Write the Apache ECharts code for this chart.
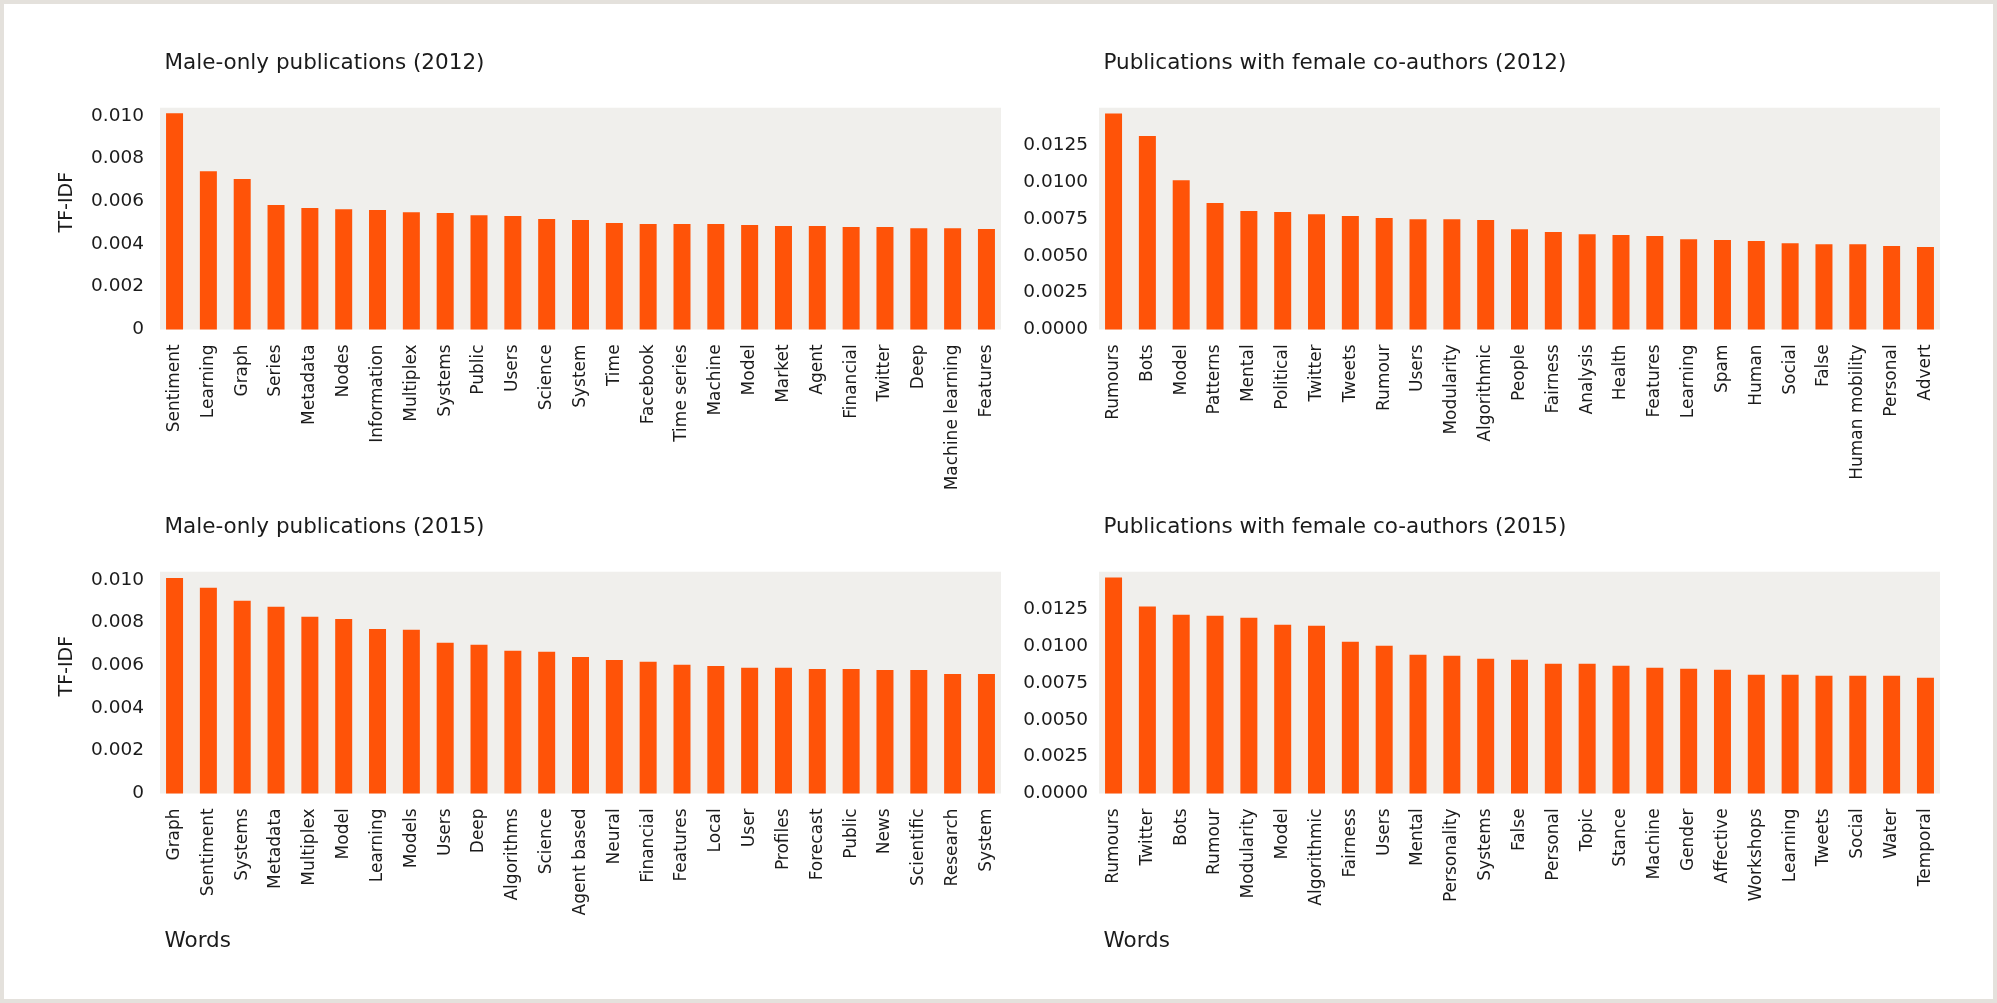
<!DOCTYPE html>
<html>
<head>
<meta charset="utf-8">
<title>TF-IDF of words in publications</title>
<script src="https://cdn.jsdelivr.net/npm/echarts@6/dist/echarts.min.js"></script>
<style>
  html, body { margin: 0; padding: 0; background: #ffffff; }
  #chart {
    width: 1997px; height: 1003px; background: #ffffff;
    box-shadow: inset 0 0 0 4px #e4e1dc;
  }
</style>
</head>
<body>
<div id="chart"></div>
<script>
// ---- data: top words by TF-IDF score ----
const wordsMale2012 = ['Sentiment', 'Learning', 'Graph', 'Series', 'Metadata', 'Nodes', 'Information',
  'Multiplex', 'Systems', 'Public', 'Users', 'Science', 'System', 'Time', 'Facebook', 'Time series',
  'Machine', 'Model', 'Market', 'Agent', 'Financial', 'Twitter', 'Deep', 'Machine learning', 'Features'];
const tfidfMale2012 = [0.01012, 0.00741, 0.00704, 0.00582, 0.00568, 0.00563, 0.00559,
  0.00549, 0.00545, 0.00535, 0.00531, 0.00517, 0.00512, 0.00498, 0.00493, 0.00493,
  0.00493, 0.00489, 0.00484, 0.00484, 0.00479, 0.00479, 0.00474, 0.00474, 0.00470];

const wordsFemale2012 = ['Rumours', 'Bots', 'Model', 'Patterns', 'Mental', 'Political', 'Twitter',
  'Tweets', 'Rumour', 'Users', 'Modularity', 'Algorithmic', 'People', 'Fairness', 'Analysis',
  'Health', 'Features', 'Learning', 'Spam', 'Human', 'Social', 'False', 'Human mobility',
  'Personal', 'Advert'];
const tfidfFemale2012 = [0.01467, 0.01313, 0.01014, 0.00858, 0.00804, 0.00798, 0.00783,
  0.00770, 0.00756, 0.00749, 0.00749, 0.00743, 0.00681, 0.00661, 0.00647,
  0.00641, 0.00634, 0.00613, 0.00607, 0.00600, 0.00586, 0.00579, 0.00579,
  0.00566, 0.00559];

const wordsMale2015 = ['Graph', 'Sentiment', 'Systems', 'Metadata', 'Multiplex', 'Model', 'Learning',
  'Models', 'Users', 'Deep', 'Algorithms', 'Science', 'Agent based', 'Neural', 'Financial',
  'Features', 'Local', 'User', 'Profiles', 'Forecast', 'Public', 'News', 'Scientific',
  'Research', 'System'];
const tfidfMale2015 = [0.01009, 0.00963, 0.00902, 0.00874, 0.00827, 0.00817, 0.00770,
  0.00766, 0.00705, 0.00696, 0.00668, 0.00663, 0.00639, 0.00625, 0.00616,
  0.00602, 0.00597, 0.00588, 0.00588, 0.00583, 0.00583, 0.00578, 0.00578,
  0.00559, 0.00559];

const wordsFemale2015 = ['Rumours', 'Twitter', 'Bots', 'Rumour', 'Modularity', 'Model', 'Algorithmic',
  'Fairness', 'Users', 'Mental', 'Personality', 'Systems', 'False', 'Personal', 'Topic',
  'Stance', 'Machine', 'Gender', 'Affective', 'Workshops', 'Learning', 'Tweets', 'Social',
  'Water', 'Temporal'];
const tfidfFemale2015 = [0.01466, 0.01269, 0.01214, 0.01207, 0.01194, 0.01146, 0.01139,
  0.01031, 0.01003, 0.00942, 0.00935, 0.00915, 0.00908, 0.00881, 0.00881,
  0.00867, 0.00854, 0.00847, 0.00840, 0.00806, 0.00806, 0.00799, 0.00799,
  0.00799, 0.00786];

// y-axis ticks
const ticksMale = [0, 0.002, 0.004, 0.006, 0.008, 0.010];
const ticksFemale = [0, 0.0025, 0.0050, 0.0075, 0.0100, 0.0125];
const yMaxMale = 0.01038;
const yMaxFemale = 0.01506;

const panelTitles = [
  'Male-only publications (2012)', 'Publications with female co-authors (2012)',
  'Male-only publications (2015)', 'Publications with female co-authors (2015)'
];
const yAxisName = 'TF-IDF';
const xAxisName = 'Words';

// ---- layout and style ----
const BAR = '#ff5308';
const PLOT_BG = '#f0efec';
const INK = '#1b1b1b';
const TICK_FONT = '"DejaVu Sans", sans-serif';
const TITLE_FONT = '"DejaVu Sans", sans-serif';

const panels = [
  { words: wordsMale2012, values: tfidfMale2012, ticks: ticksMale, max: yMaxMale, dec: 3, left: 160, top: 107.7, labelMargin: 16 },
  { words: wordsFemale2012, values: tfidfFemale2012, ticks: ticksFemale, max: yMaxFemale, dec: 4, left: 1099, top: 107.7, labelMargin: 11 },
  { words: wordsMale2015, values: tfidfMale2015, ticks: ticksMale, max: yMaxMale, dec: 3, left: 160, top: 571.7, labelMargin: 16 },
  { words: wordsFemale2015, values: tfidfFemale2015, ticks: ticksFemale, max: yMaxFemale, dec: 4, left: 1099, top: 571.7, labelMargin: 11 }
];
const PLOT_W = 841, PLOT_H = 221.7;

const grid = panels.map(p => ({
  left: p.left, top: p.top, width: PLOT_W, height: PLOT_H,
  show: true, backgroundColor: PLOT_BG, borderWidth: 0
}));

const xAxis = panels.map((p, i) => ({
  gridIndex: i,
  type: 'value',
  min: -0.43,
  max: p.words.length - 1 + 0.43,
  splitLine: { show: false },
  axisLine: { show: false },
  axisTick: { show: false },
  axisLabel: {
    customValues: p.words.map((_, k) => k),
    formatter: v => p.words[Math.round(v)],
    rotate: 90,
    margin: 15,
    fontFamily: TICK_FONT,
    fontSize: 17,
    color: INK
  }
}));

const yAxis = panels.map((p, i) => ({
  gridIndex: i,
  type: 'value',
  min: 0,
  max: p.max,
  splitLine: { show: false },
  axisLine: { show: false },
  axisTick: { show: false },
  axisLabel: {
    customValues: p.ticks,
    formatter: v => (p.dec === 3 && v === 0) ? '0' : v.toFixed(p.dec),
    margin: p.labelMargin,
    fontFamily: TICK_FONT,
    fontSize: 18.5,
    color: INK
  }
}));

const series = panels.map((p, i) => ({
  type: 'bar',
  xAxisIndex: i,
  yAxisIndex: i,
  barWidth: 17,
  silent: true,
  itemStyle: { color: BAR },
  data: p.values.map((v, k) => [k, v])
}));

const titleStyle = { font: '21.5px ' + TITLE_FONT, fill: INK, verticalAlign: 'middle', align: 'left' };
const graphic = [];
panels.forEach((p, i) => {
  graphic.push({ type: 'text', x: p.left + 4.5, y: p.top - 44.7, style: Object.assign({ text: panelTitles[i] }, titleStyle) });
});
// y-axis names on the left column
[panels[0], panels[2]].forEach(p => {
  graphic.push({
    type: 'text', x: 67, y: p.top + 94.5, rotation: Math.PI / 2,
    style: { text: yAxisName, font: '19px ' + TICK_FONT, fill: INK, align: 'center', verticalAlign: 'middle' }
  });
});
// x-axis names under the bottom row
[panels[2], panels[3]].forEach(p => {
  graphic.push({ type: 'text', x: p.left + 4.5, y: 941.7, style: Object.assign({ text: xAxisName }, titleStyle) });
});

const chart = echarts.init(document.getElementById('chart'), null, { renderer: 'canvas' });
chart.setOption({
  animation: false,
  grid, xAxis, yAxis, series, graphic
});
</script>
</body>
</html>
